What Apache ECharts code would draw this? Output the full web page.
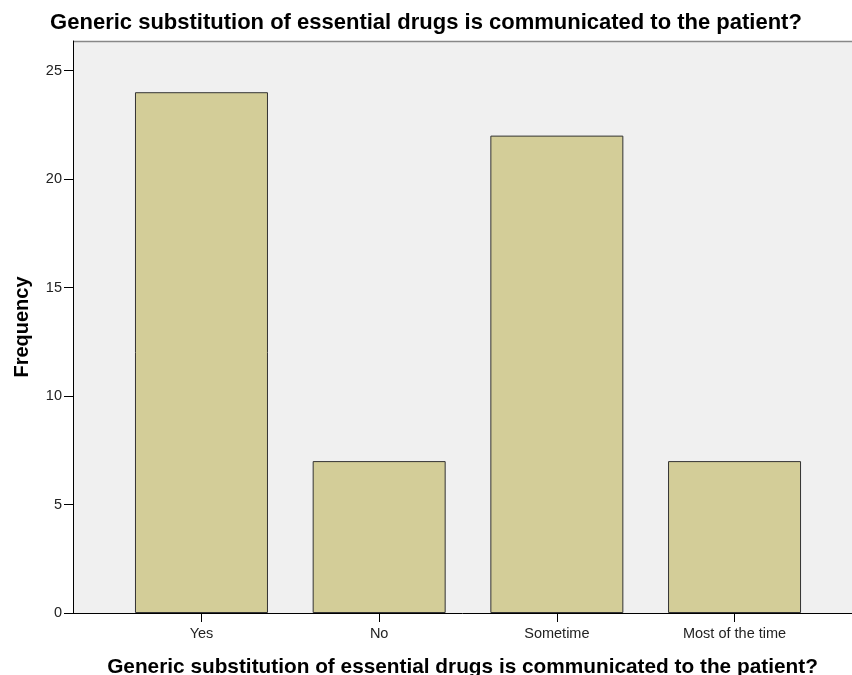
<!DOCTYPE html>
<html><head><meta charset="utf-8">
<script src="https://cdn.jsdelivr.net/npm/echarts@6/dist/echarts.min.js"></script>
<style>html,body{margin:0;padding:0;background:#fff}#c{width:852px;height:675px}</style>
</head><body><div id="c"></div>
<script>
const categories = ["Yes", "No", "Sometime", "Most of the time"];
const frequency = [24, 7, 22, 7];
const yTicks = [0, 5, 10, 15, 20, 25];
const titleText = "Generic substitution of essential drugs is communicated to the patient?";

const chart = echarts.init(document.getElementById('c'), null, {renderer: 'canvas'});
const positions = categories.map((c, i) => i);
chart.setOption({
  animation: false,
  backgroundColor: '#ffffff',
  title: {
    text: titleText, left: 'center', top: 7,
    textStyle: {fontFamily: 'Liberation Sans', fontSize: 22, fontWeight: 'bold', color: '#000'}
  },
  grid: {left: 73, right: 0, top: 41, bottom: 62, show: true, backgroundColor: '#f0f0f0', borderWidth: 0,
    containLabel: false, outerBoundsMode: 'none'},
  xAxis: {
    type: 'value', min: -0.723, max: 3.661,
    name: titleText, nameLocation: 'middle', nameGap: 44,
    nameTextStyle: {fontFamily: 'Liberation Sans', fontSize: 20.8, fontWeight: 'bold', color: '#000'},
    axisLine: {show: true, onZero: false, lineStyle: {color: '#000', width: 1}},
    axisTick: {show: true, customValues: positions, length: 9, lineStyle: {color: '#000'}},
    axisLabel: {customValues: positions, formatter: v => categories[Math.round(v)] || '', margin: 13,
      fontFamily: 'Liberation Sans', fontSize: 14.5, color: '#222'},
    splitLine: {show: false}
  },
  yAxis: {
    type: 'value', min: 0, max: 26.36,
    name: 'Frequency', nameLocation: 'middle', nameGap: 41, nameRotate: 90,
    nameTextStyle: {fontFamily: 'Liberation Sans', fontSize: 20, fontWeight: 'bold', color: '#000'},
    axisLine: {show: true, onZero: false, lineStyle: {color: '#000', width: 1}},
    axisTick: {show: true, customValues: yTicks, length: 9, lineStyle: {color: '#000'}},
    axisLabel: {customValues: yTicks, margin: 11, padding: [5, 0, 0, 0], fontFamily: 'Liberation Sans', fontSize: 14.5, color: '#222'},
    splitLine: {show: false}
  },
  graphic: [{
    type: 'line', shape: {x1: 73, y1: 41.5, x2: 852, y2: 41.5}, style: {stroke: '#888', lineWidth: 1.5}
  }],
  series: [{
    type: 'bar',
    data: frequency.map((v, i) => [positions[i], v]),
    barWidth: 133,
    itemStyle: {color: '#d3cd98', borderColor: '#333', borderWidth: 1}
  }]
});
</script></body></html>
